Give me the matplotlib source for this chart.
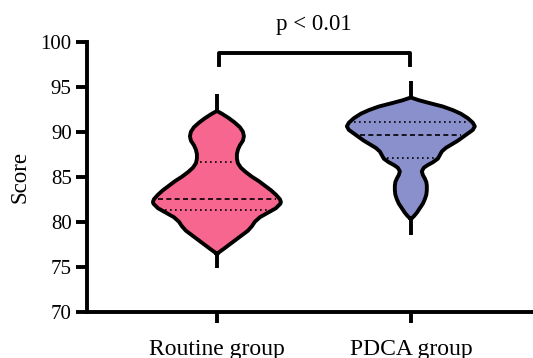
import numpy as np
import matplotlib
matplotlib.use("Agg")
import matplotlib.pyplot as plt

plt.rcParams['font.family'] = ['Liberation Serif', 'DejaVu Serif']

# Groups and summary lines (median, quartiles)
groups = ["Routine group", "PDCA group"]
colors = ["#F7668F", "#8A90CC"]
medians = [82.5, 89.6]
q1 = [81.3, 87.1]
q3 = [86.6, 91.1]
tails = [(74.85, 94.2), (78.5, 95.6)]

# Violin outline: score level -> half width (px)
routine_y = [76.4, 76.6, 77.0, 77.5, 78.0, 78.5, 79.0, 79.5, 80.0, 80.5, 81.0, 81.5,
             82.0, 82.2, 82.5, 83.0, 83.5, 84.0, 84.5, 85.0, 85.5, 86.0, 86.5, 87.0,
             87.5, 88.0, 88.5, 89.0, 89.5, 90.0, 90.5, 91.0, 91.5, 92.0, 92.3]
routine_w = [0, 2, 7, 13, 19, 25, 31, 35, 38, 43, 51, 59,
             63.5, 64, 63, 59, 54, 48, 42, 35, 29, 24, 21, 20,
             20, 21, 23, 26, 27, 26, 23, 18, 12, 5, 0]
pdca_y = [80.3, 80.6, 81.0, 81.5, 82.0, 82.5, 83.0, 83.5, 84.0, 84.4, 84.8, 85.2,
          85.6, 86.0, 86.3, 86.6, 87.0, 87.4, 87.8, 88.2, 88.6, 89.0, 89.4, 89.8,
          90.2, 90.6, 91.0, 91.5, 92.0, 92.4, 92.8, 93.2, 93.5, 93.8]
pdca_w = [0, 3, 6, 9, 12, 14, 15.5, 16, 16, 15.5, 14, 12,
          11, 13, 17, 22, 27, 29, 31, 35, 41, 47, 52, 57,
          62, 64, 62, 57, 50, 42, 32, 18, 8, 0]

profiles = [(routine_y, routine_w), (pdca_y, pdca_w)]
px_per_unit = 194.0

fig = plt.figure(figsize=(5.33, 3.58), dpi=100)
ax = fig.add_axes([0.1632, 0.1293, 0.8368, 0.7542])

for i, (ys, ws) in enumerate(profiles):
    ys = np.array(ys)
    hw = np.array(ws) / px_per_unit
    # thin tails outside the body
    ax.plot([i, i], [tails[i][0], ys[0]], color='black', lw=2.8, solid_capstyle='butt', zorder=3)
    ax.plot([i, i], [ys[-1], tails[i][1]], color='black', lw=2.8, solid_capstyle='butt', zorder=3)
    ax.fill_betweenx(ys, i - hw, i + hw, color=colors[i], lw=0, zorder=2)
    xs = np.concatenate([i - hw, (i + hw)[::-1]])
    yy = np.concatenate([ys, ys[::-1]])
    ax.plot(xs, yy, color='black', lw=2.8, solid_joinstyle='round', zorder=4)
    for val, ls in [(medians[i], (0, (3, 2))), (q1[i], (0, (1, 2))), (q3[i], (0, (1, 2)))]:
        w = np.interp(val, ys, hw) - 0.02
        ax.plot([i - w, i + w], [val, val], color='black', lw=1.2, linestyle=ls, zorder=3)

# significance bracket
ax.plot([0.01, 0.01, 0.995, 0.995], [97.4, 98.8, 98.8, 97.4], color='black', lw=2.8,
        clip_on=False, zorder=5)
ax.text(0.5, 100.8, "p < 0.01", ha='center', va='bottom', fontsize=16.5, clip_on=False)

ax.set_xlim(-0.67, 1.63)
ax.set_ylim(70, 100)
ax.set_yticks([70, 75, 80, 85, 90, 95, 100])
ax.set_xticks([0, 1])
ax.set_xticklabels(groups)
ax.set_ylabel("Score", fontsize=16.5, labelpad=7)

for s in ['top', 'right']:
    ax.spines[s].set_visible(False)
for s in ['left', 'bottom']:
    ax.spines[s].set_linewidth(2.8)
ax.tick_params(axis='both', width=2.8, length=8)
ax.tick_params(axis='y', pad=3, labelsize=15)
ax.tick_params(axis='x', pad=12, labelsize=17)

fig.savefig("out.png", dpi=100)
